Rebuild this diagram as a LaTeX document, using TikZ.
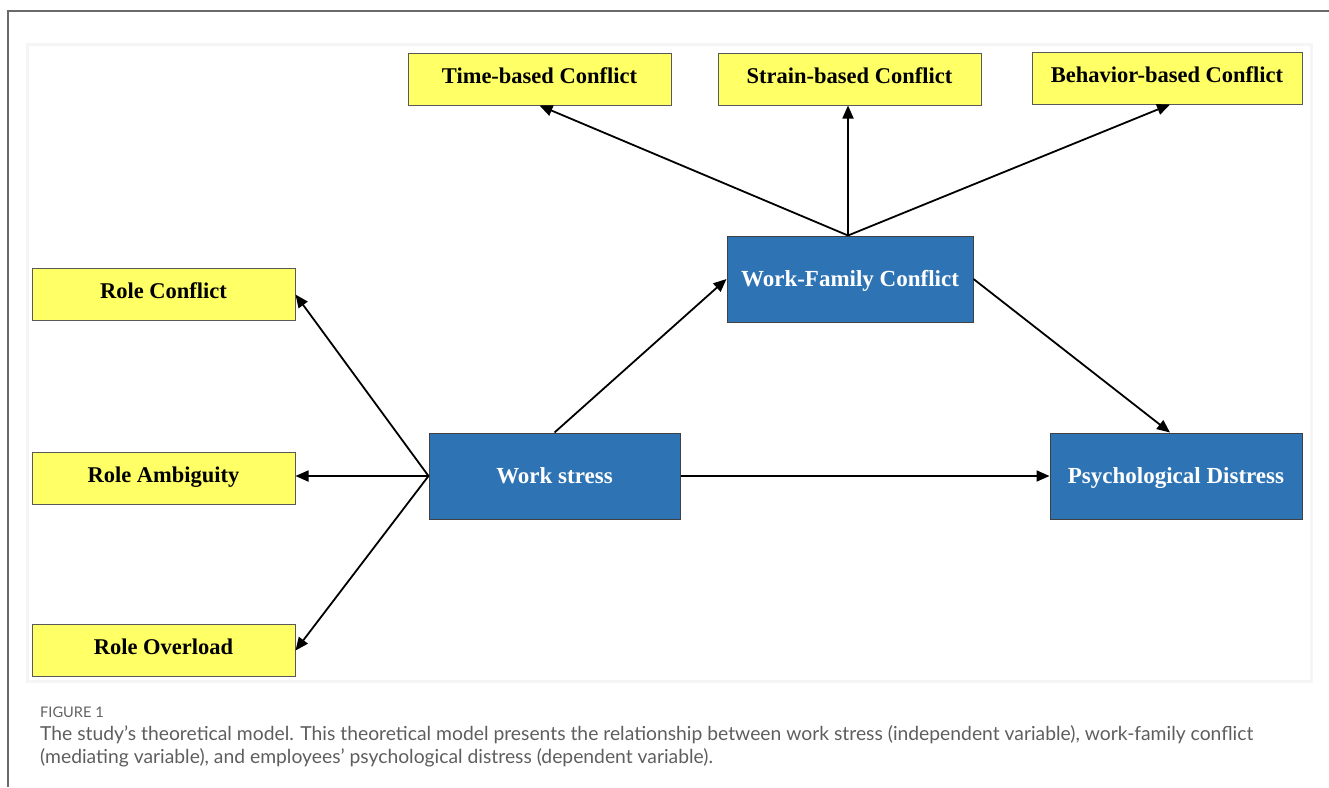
\documentclass[tikz,border=0pt]{standalone}
\usepackage{fontspec}
\setmainfont{Liberation Serif}
\newfontfamily\capfont{Lato}
\usetikzlibrary{arrows.meta}
\definecolor{boxyellow}{HTML}{FFFF66}
\definecolor{boxblue}{HTML}{2E74B5}
\definecolor{capgray}{HTML}{5E5E5E}
\definecolor{framegray}{HTML}{6A6A6A}
\begin{document}
\begin{tikzpicture}[x=1pt,y=-1pt,
  ybox/.style={draw=black!65, fill=boxyellow, line width=1pt, minimum width=263pt, minimum height=52pt, inner sep=0pt, text height=14pt, text depth=5.2pt, font=\fontsize{22.5}{24}\selectfont\bfseries},
  bbox/.style={draw=black!75, fill=boxblue, text=white, line width=1pt, minimum height=86pt, inner sep=0pt, text height=20pt, text depth=4.8pt, font=\fontsize{23}{25}\selectfont\bfseries},
  conn/.style={-{Triangle[length=13pt,width=11pt]}, line width=1.8pt},
  captext/.style={anchor=base west, inner sep=0pt, text=capgray, font=\capfont\fontsize{19.3}{22}\selectfont}
]
\useasboundingbox (0,0) rectangle (1329,787);
% outer frame
\draw[framegray, line width=1.2pt] (8,787) -- (8,11) -- (1329,11);
% panel
\draw[draw=black!4, fill=white, line width=3pt] (27,44) rectangle (1311,681);

% top boxes
\node[ybox] (tb) at (539.5,79) {Time-based Conflict};
\node[ybox] (sb) at (849.5,79) {Strain-based Conflict};
\node[ybox, minimum width=270pt] (bb) at (1167,78) {Behavior-based Conflict};
% left boxes
\node[ybox] (rc) at (163.5,294.5) {Role Conflict};
\node[ybox] (ra) at (163.5,478) {Role Ambiguity};
\node[ybox] (ro) at (163.5,650.5) {Role Overload};
% blue boxes
\node[bbox, minimum width=246pt] (wfc) at (850,279) {Work-Family Conflict};
\node[bbox, minimum width=251pt] (ws) at (554.5,476) {Work stress};
\node[bbox, minimum width=252pt] (pd) at (1176,476) {Psychological Distress};

% connectors
\draw[conn] ([xshift=-2pt]wfc.north) -- (tb.south);
\draw[conn] ([xshift=-2pt]wfc.north) -- ([xshift=-2pt]wfc.north |- sb.south);
\draw[conn] ([xshift=-2pt]wfc.north) -- ([xshift=3pt]bb.south);
\draw[conn] (ws.west) -- (rc.east);
\draw[conn] (ws.west) -- (ws.west -| ra.east);
\draw[conn] (ws.west) -- (ro.east);
\draw[conn] (ws.north) -- (wfc.west);
\draw[conn] (wfc.east) -- ([xshift=-6pt]pd.north);
\draw[conn] (ws.east) -- (pd.west);

% caption
\node[captext, text=black!62, font=\capfont\fontsize{14.6}{16}\selectfont] (fig) at (40,717) {FIGURE 1};
\node[captext] (cap1) at (40,740) {The study’s theoretical model. This theoretical model presents the relationship between work stress (independent variable), work-family conflict};
\node[captext] (cap2) at (40,763) {(mediating variable), and employees’ psychological distress (dependent variable).};
\end{tikzpicture}
\end{document}
